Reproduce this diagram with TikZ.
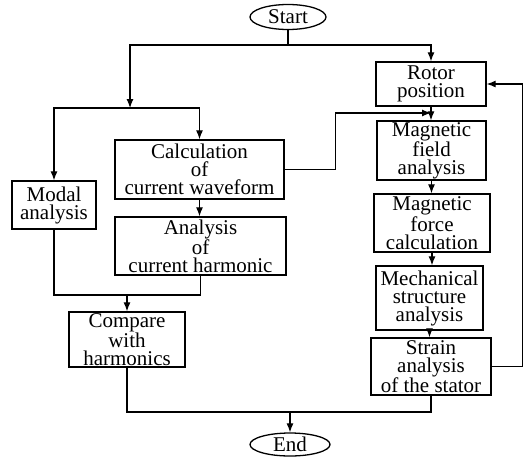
\documentclass[tikz,border=0pt]{standalone}
\usepackage{fontspec}
\setmainfont{Liberation Serif}
\usepackage{tikz}
\usetikzlibrary{arrows.meta}
\usetikzlibrary{shapes.geometric}
\tikzset{
	box/.style={draw, black, line width=1.3pt, rectangle, inner sep=0pt, align=center, font=\fontsize{21}{18}\selectfont},
	term/.style={draw, black, line width=1.3pt, ellipse, inner sep=0pt, font=\fontsize{21}{18}\selectfont},
	flow/.style={black, line width=1.2pt},
	tip/.style={-{Latex[length=9pt, width=7pt]}}
}

\begin{document}
\begin{tikzpicture}[x=1pt, y=-1pt]
		\useasboundingbox (0,0) rectangle (526,458);
		\node[term, minimum width=76pt, minimum height=25pt] (start) at (288,17) {Start};
		\node[term, minimum width=80pt, minimum height=23pt] (end) at (290,444.5) {End};
		\node[box, minimum width=110pt, minimum height=44pt] (rotor) at (431,84) {Rotor\\position};
		\node[box, minimum width=109pt, minimum height=59pt] (field) at (431.5,150.5) {Magnetic\\field\\analysis};
		\node[box, minimum width=116pt, minimum height=58pt] (force) at (432,223) {Magnetic\\force\\calculation};
		\node[box, minimum width=107pt, minimum height=64pt] (mech) at (429.5,298) {Mechanical\\structure\\analysis};
		\node[box, minimum width=120pt, minimum height=57pt] (strain) at (431,366.5) {Strain\\analysis\\of the stator};
		\node[box, minimum width=84pt, minimum height=48pt] (modal) at (54,205) {Modal\\analysis};
		\node[box, minimum width=169pt, minimum height=59pt] (calc) at (199.5,169.5) {Calculation\\of\\current waveform};
		\node[box, minimum width=171pt, minimum height=58pt] (harm) at (200.5,246) {Analysis\\of\\current harmonic};
		\node[box, minimum width=116pt, minimum height=55pt] (compare) at (127,339.5) {Compare\\with\\harmonics};
		\coordinate (split) at (288,45);
		\coordinate (left) at (130,108);
		\coordinate (fieldin) at (431,113);
		\coordinate (mergeL) at (127,295);
		\coordinate (mergeE) at (290,412);
		% from start
		\draw[flow] (start.south) -- (split);
		\draw[flow, tip] (split) -| (rotor.north);
		\draw[flow, tip] (split) -| (left);
		\draw[flow, tip] (left) -| (modal.north);
		\draw[flow, tip] (left) -| (calc.north);
		% left branch
		\draw[flow, tip] (calc.south) -- (calc.south |- harm.north);
		\draw[flow, tip] (calc.east) -- ++(51,0) |- (fieldin);
		\draw[flow] (modal.south) |- (mergeL);
		\draw[flow] (harm.south) |- (mergeL);
		\draw[flow, tip] (mergeL) -- (compare.north);
		% right branch
		\draw[flow, tip] (rotor.south) -- (rotor.south |- field.north);
		\draw[flow, tip] (field.south) -- (field.south |- force.north);
		\draw[flow, tip] (force.south) -- (force.south |- mech.north);
		\draw[flow, tip] (mech.south) -- (mech.south |- strain.north);
		\draw[flow, tip] (strain.east) -- ++(31,0) |- (rotor.east);
		% to end
		\draw[flow] (compare.south) |- (mergeE);
		\draw[flow] (strain.south) |- (mergeE);
		\draw[flow, tip] (mergeE) -- (end.north);
\end{tikzpicture}
\end{document}
